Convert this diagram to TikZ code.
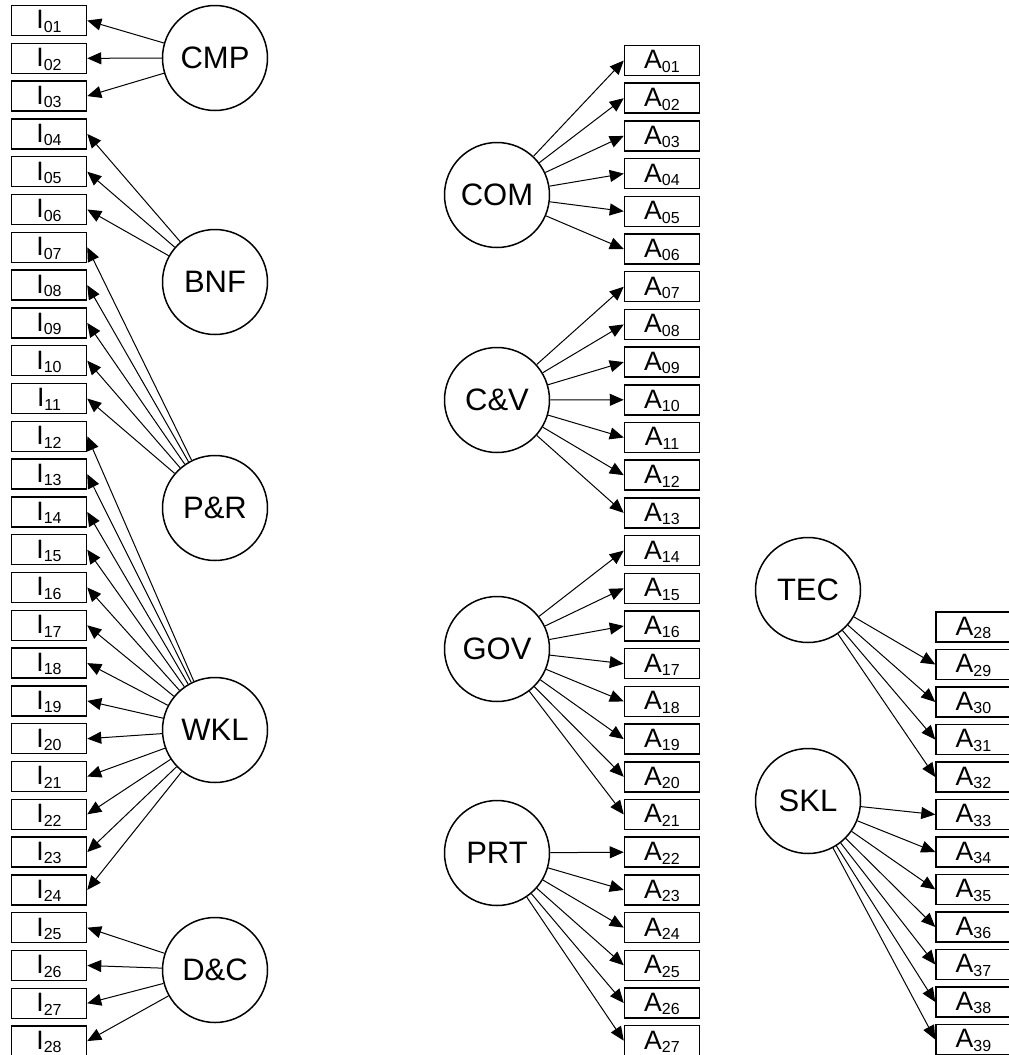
\documentclass[tikz,border=0pt]{standalone}
\usepackage{fontspec}
\setmainfont{Liberation Sans}
\usepackage{tikz}
\usetikzlibrary{arrows.meta,positioning}

\newcommand{\twodig}[1]{\ifnum#1<10 0\fi#1}
\newcommand{\idx}[1]{{\fontsize{8}{8}\selectfont\raisebox{-1.7pt}{#1}}}

\begin{document}
\begin{tikzpicture}[x=0.5pt,y=-0.5pt,
    item/.style={draw,line width=0.75pt,minimum width=37.5pt,minimum height=15pt,
      inner sep=0pt,text height=8.4pt,text depth=0pt,
      font=\fontsize{13.3}{14}\selectfont},
    latent/.style={draw,circle,line width=0.75pt,minimum size=52.5pt,inner sep=0pt,
      font=\fontsize{15.5}{18}\selectfont},
    load/.style={-{Triangle[length=7pt,width=6pt]},line width=0.5pt}]
  \useasboundingbox (0,0) rectangle (1008,1055);
  % indicators, left column
  \foreach \i in {1,...,28} {
    \pgfmathsetmacro\yy{20.5+(\i-1)*37.8}
    \node[item] (I\i) at (49,\yy) {I\idx{\twodig{\i}}};
  }
  % indicators, middle and right columns
  \foreach \i in {1,...,27} {
    \pgfmathsetmacro\yy{60.5+(\i-1)*37.7}
    \node[item] (A\i) at (662,\yy) {A\idx{\twodig{\i}}};
  }
  \foreach \i in {28,...,39} {
    \pgfmathsetmacro\yy{627+(\i-28)*37.5}
    \node[item] (A\i) at (973.5,\yy) {A\idx{\i}};
  }
  % latent factors
  \node[latent] (cmp) at (215,58)  {CMP};
  \node[latent] (bnf) at (215,282) {BNF};
  \node[latent] (pr)  at (215,508) {P\&R};
  \node[latent] (wkl) at (215,730) {WKL};
  \node[latent] (dc)  at (215,970) {D\&C};
  \node[latent] (com) at (497,195) {COM};
  \node[latent] (cv)  at (497,400) {C\&V};
  \node[latent] (gov) at (497,649) {GOV};
  \node[latent] (prt) at (497,853) {PRT};
  \node[latent] (tec) at (808,590) {TEC};
  \node[latent] (skl) at (808,801) {SKL};
  % loadings
  \foreach \f/\a/\b in {cmp/1/3,bnf/4/6,pr/7/11,wkl/12/24,dc/25/28}
    \foreach \k in {\a,...,\b}
      \draw[load] (\f) -- (I\k.east);
  \foreach \f/\a/\b in {com/1/6,cv/7/13,gov/14/21,prt/22/27,tec/29/32,skl/33/39}
    \foreach \k in {\a,...,\b}
      \draw[load] (\f) -- (A\k.west);
\end{tikzpicture}
\end{document}
